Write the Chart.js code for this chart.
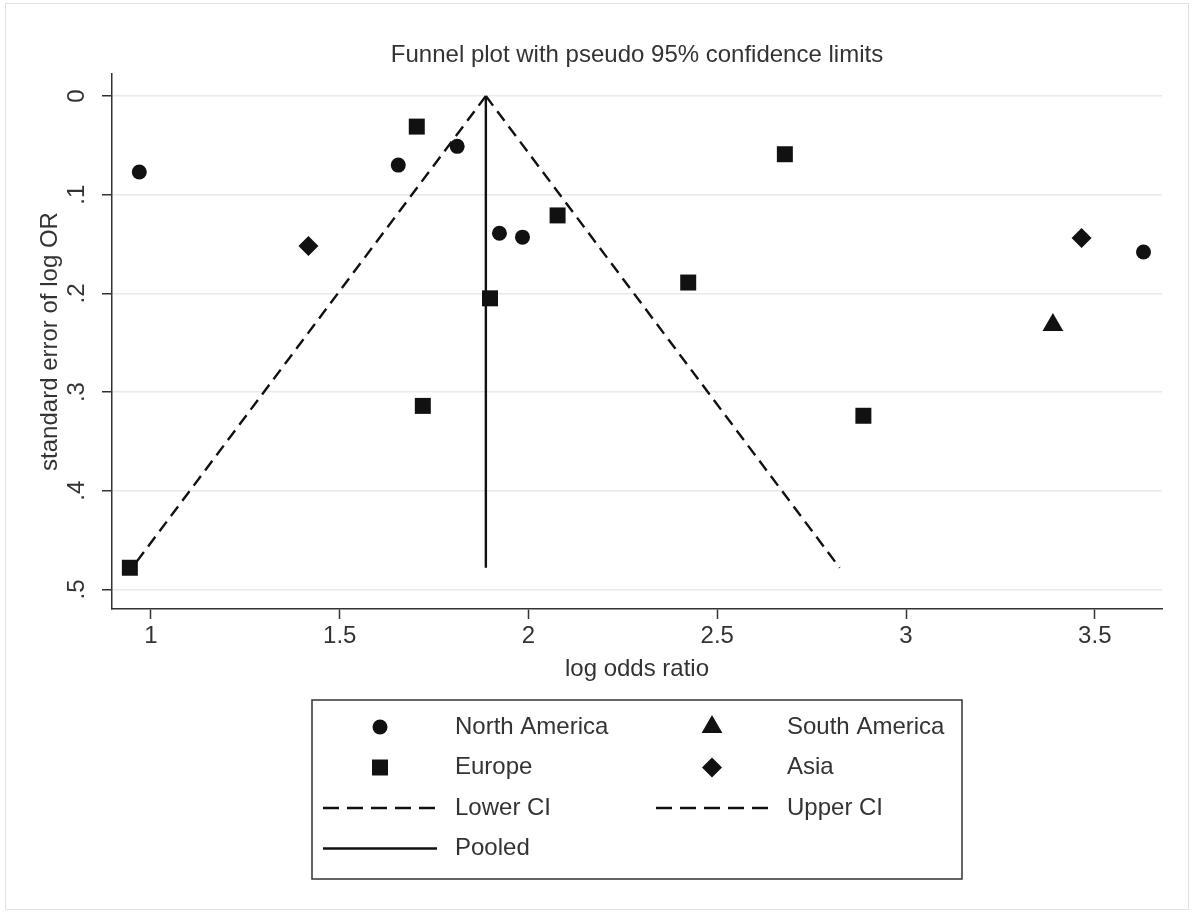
<!DOCTYPE html>
<html lang="en">
<head>
<meta charset="UTF-8">
<title>Funnel plot with pseudo 95% confidence limits</title>
<script src="https://cdn.jsdelivr.net/npm/chart.js@4/dist/chart.umd.min.js"></script>
<style>
  html, body { margin: 0; padding: 0; background: #fff; }
  #wrap { position: relative; width: 1200px; height: 917px; }
</style>
</head>
<body>
<div id="wrap"><canvas id="funnel"></canvas></div>
<script>
// ---------------------------------------------------------------------------
// Werte
// ---------------------------------------------------------------------------
const naX  = [0.969, 1.655, 1.811, 1.923, 1.984, 3.629];
const naSe = [0.077, 0.070, 0.051, 0.139, 0.143, 0.158];
const saX  = [3.389];
const saSe = [0.232];
const euX  = [1.704, 2.077, 1.898, 1.720, 0.944, 2.679, 2.423, 2.887];
const euSe = [0.031, 0.121, 0.205, 0.314, 0.478, 0.059, 0.189, 0.324];
const asX  = [1.417, 3.465];
const asSe = [0.152, 0.144];

// Trichter: gepoolter Schaetzer und Pseudo-95%-Grenzen bei se = 0 und se = max
const ciSe     = [0, 0.478];
const lowerCI  = [1.887, 0.950];
const upperCI  = [1.887, 2.824];
const pooledOR = [1.887, 1.887];

const xTicks      = [1, 1.5, 2, 2.5, 3, 3.5];
const xTickLabels = ['1', '1.5', '2', '2.5', '3', '3.5'];
const yTicks      = [0, 0.1, 0.2, 0.3, 0.4, 0.5];
const yTickLabels = ['0', '.1', '.2', '.3', '.4', '.5'];

// ---------------------------------------------------------------------------
const INK  = '#111';
const TEXT = '#333';
const FONT = "'Liberation Sans', Arial, Helvetica, sans-serif";
const DASH = [12, 7];
const LEGEND_DASH = [16, 8];

const pts = (xs, ys) => xs.map((x, i) => ({ x, y: ys[i] }));

const marker = (label, xs, ys, style, r) => ({
  label, data: pts(xs, ys), showLine: false,
  pointStyle: style, pointRadius: r, pointHoverRadius: r,
  backgroundColor: INK, borderColor: INK, borderWidth: 0,
  legendKind: 'marker', order: 1,
});
const line = (label, xs, ys, dash) => ({
  label, data: pts(xs, ys), showLine: true,
  pointRadius: 0, pointHoverRadius: 0,
  borderColor: INK, borderWidth: 2.4, borderDash: dash,
  legendKind: 'line', order: 2,
});

// Legende wie in Stata: zwei Spalten in einem Rahmen
const legendBox = {
  id: 'legendBox',
  afterDraw(chart) {
    const ctx = chart.ctx;
    const box = { x: 312, y: 700, w: 650, h: 179 };
    const rows = [727, 767.5, 808, 848.5];
    const markX = [380, 712], textX = [455, 787];
    const lineX = [[323, 437], [656, 769]];
    ctx.save();
    ctx.strokeStyle = TEXT;
    ctx.lineWidth = 1.5;
    ctx.strokeRect(box.x, box.y, box.w, box.h);
    chart.data.datasets.forEach((ds, i) => {
      const col = i % 2, y = rows[Math.floor(i / 2)];
      if (ds.legendKind === 'marker') {
        ctx.fillStyle = INK;
        ctx.strokeStyle = INK;
        Chart.helpers.drawPoint(ctx, {
          pointStyle: ds.pointStyle, radius: ds.pointRadius, borderWidth: 0, rotation: 0,
        }, markX[col], y);
      } else {
        ctx.strokeStyle = INK;
        ctx.lineWidth = ds.borderWidth;
        ctx.setLineDash(ds.borderDash.length ? LEGEND_DASH : []);
        ctx.beginPath();
        ctx.moveTo(lineX[col][0], y);
        ctx.lineTo(lineX[col][1], y);
        ctx.stroke();
        ctx.setLineDash([]);
      }
      ctx.fillStyle = TEXT;
      ctx.font = `24px ${FONT}`;
      ctx.textAlign = 'left';
      ctx.textBaseline = 'middle';
      ctx.fillText(ds.label, textX[col], y);
    });
    // heller Rahmen um die Grafik
    ctx.strokeStyle = '#e2e2e2';
    ctx.lineWidth = 1;
    ctx.strokeRect(5.5, 3.5, 1183, 906);
    ctx.restore();
  }
};

// gedrehte y-Beschriftungen (Chart.js dreht nur horizontale Achsen)
const yLabels = {
  id: 'yLabels',
  afterDraw(chart) {
    const ctx = chart.ctx, s = chart.scales.y;
    ctx.save();
    ctx.fillStyle = TEXT;
    ctx.font = `24px ${FONT}`;
    ctx.textAlign = 'center';
    ctx.textBaseline = 'middle';
    yTicks.forEach((v, i) => {
      ctx.save();
      ctx.translate(77, s.getPixelForValue(v));
      ctx.rotate(-Math.PI / 2);
      ctx.fillText(yTickLabels[i], 0, 0);
      ctx.restore();
    });
    ctx.restore();
  }
};

Chart.defaults.font.family = FONT;

new Chart(document.getElementById('funnel'), {
  type: 'scatter',
  plugins: [legendBox, yLabels],
  data: {
    datasets: [
      marker('North America', naX, naSe, 'circle', 7.5),
      marker('South America', saX, saSe, 'triangle', 12),
      marker('Europe', euX, euSe, 'rect', 11.3),
      marker('Asia', asX, asSe, 'rectRot', 10),
      line('Lower CI', lowerCI, ciSe, DASH),
      line('Upper CI', upperCI, ciSe, DASH),
      line('Pooled', pooledOR, ciSe, []),
    ]
  },
  options: {
    responsive: true,
    maintainAspectRatio: false,
    animation: false,
    layout: { padding: { left: 0, right: 38, top: 0, bottom: 0 } },
    plugins: {
      legend: { display: false },
      tooltip: { enabled: false },
      title: {
        display: true, fullSize: false,
        text: 'Funnel plot with pseudo 95% confidence limits',
        color: TEXT, font: { size: 24, weight: 'normal' },
        padding: { top: 40.6, bottom: 4.6 },
      },
    },
    scales: {
      x: {
        type: 'linear', min: 0.8967, max: 3.678,
        afterFit: (s) => { s.height = 308; },
        afterBuildTicks: (s) => { s.ticks = xTicks.map(v => ({ value: v })); },
        ticks: {
          color: TEXT, font: { size: 24 }, padding: 3, maxRotation: 0,
          callback: (v, i) => xTickLabels[i],
        },
        grid: { drawOnChartArea: false, tickLength: 10, tickColor: TEXT, tickWidth: 1.5 },
        border: { display: true, color: TEXT, width: 1.5 },
        title: {
          display: true, text: 'log odds ratio', color: TEXT,
          font: { size: 24 }, padding: { top: 4, bottom: 233 },
        },
      },
      y: {
        type: 'linear', reverse: true, min: -0.0223, max: 0.5198,
        afterFit: (s) => { s.width = 112; },
        afterBuildTicks: (s) => { s.ticks = yTicks.map(v => ({ value: v })); },
        ticks: { display: false },
        grid: { color: '#e9e9e9', lineWidth: 1.5, tickLength: 10, tickColor: TEXT, tickWidth: 1.5 },
        border: { display: true, color: TEXT, width: 1.5 },
        title: {
          display: true, text: 'standard error of log OR', color: TEXT,
          font: { size: 24 }, padding: { top: 36, bottom: 0 },
        },
      },
    },
  },
});
</script>
</body>
</html>
